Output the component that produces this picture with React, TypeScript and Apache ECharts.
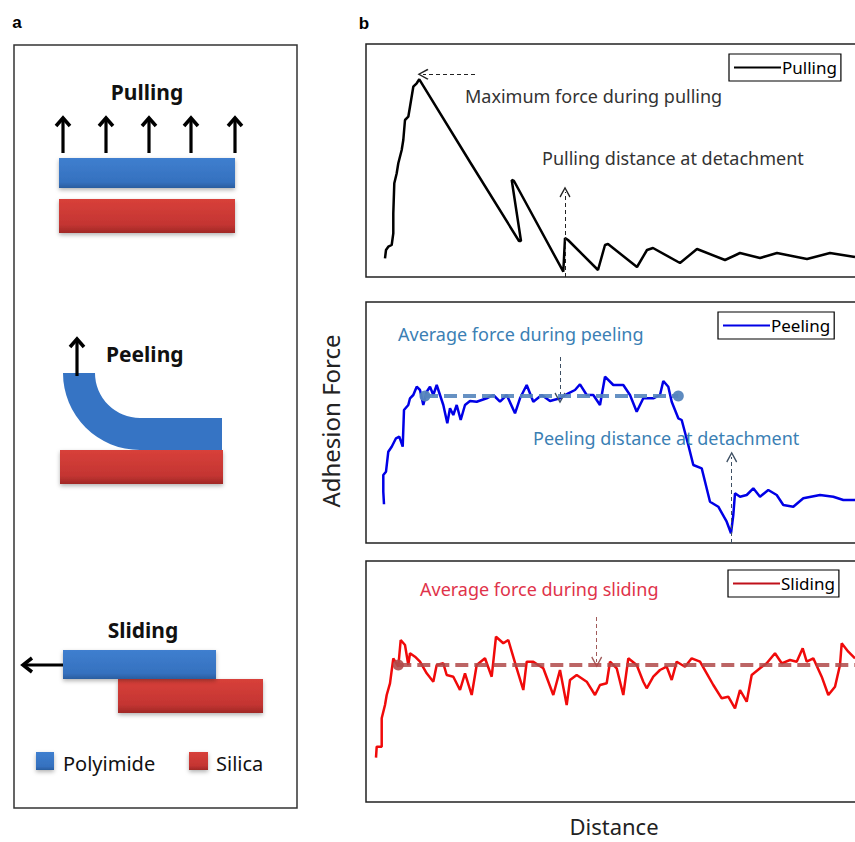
import React, { useEffect, useRef } from "react";
import * as echarts from "echarts";

// Distance (arbitrary units) and adhesion force (arbitrary units)
const pullDistance = [19,20,22.3,25.7,27.3,27.3,28.3,30.7,32.3,35.7,37.3,39,42.3,44,47.3,50.7,53.3,104,153,155,145.7,148,197.3,199,202,232,239,242,271,281,287,314,331,359,374,394,411,441,464,489];
const pullForce = [18.7,27,30.3,32,43.7,63.7,93.7,103.7,113.7,127,137,157,160.3,170.3,190.3,193.7,197.7,115,36,36,97,96,5.3,39,37,7,32,33,10,27,29,14,28,17,24,19,24,18,24,20];

const peelDistance = [18,17.3,17.3,20,22.3,25.7,30,33.3,36.7,38,42.3,44,47.3,50.7,54,57.3,60.7,64,67.3,70.7,74,77.3,81.3,84,87.3,90.7,94.7,99,104,110.7,120.7,127.3,134,140.7,149,154,160.7,167.3,175.7,184,194,202.3,209,214,220.7,227.3,234,239,247.3,257.3,264,270.7,277.3,287.3,294,297.3,302.3,305.7,312.3,315.7,322.3,327.3,335.7,344,352.3,360.7,365,367.3,369,374,380.7,387.3,394,402.3,410.7,417.3,427.3,437.3,454,467.3,477.3,489];
const peelForce = [38.7,51.3,68,71.3,91.3,96.3,104.7,106.3,96.3,133,138,144.7,148,156.3,153,138,151.3,156.3,148,158,148,138,119.7,134.7,128,138,123,138,142,141.3,144.7,148,141.3,148,129.7,144.7,158,141.3,148,142,144.7,149.7,153,158.7,148,148,138,166.3,158,158,148,131.3,144.7,144.7,148,162,156.3,141.3,124.7,123,98,78,74.7,41.3,36.3,21.3,9.7,28,49.7,46.3,48,54.7,46.3,53,48,38,36.3,44.7,48,46.3,43,43];

const slideDistance = [10,10.7,15.7,15.7,19,20.7,24,27.3,32.3,34.7,39,42.3,44,49,54,60.7,67.3,70.7,77.3,80.7,87.3,94,99,105.7,110.7,119,125.7,130,137.3,142.3,150.7,157.3,160.7,167.3,177.3,187.3,194,200.7,204,210.7,220.7,229,234,240.7,244,250.7,257.3,262.3,270.7,277.3,280.7,287.3,294,300.7,305.7,310.7,319,325.7,334,340.7,347.3,355.7,362.3,369,374,380.7,385.7,394,400.7,409,415.7,424,430.7,436.7,440.7,447.3,455.7,462.3,469,474,475.7,482.3,489];
const slideForce = [44.3,55.3,55.3,83.7,97,107,118.7,143.7,135.3,162,157,137,148.7,145.3,140.3,128.7,120.3,137,138.7,127,125.3,112,128.7,107,137,143.7,125.3,165.3,158.7,162,133.7,112,140.3,140.3,133.7,107,132,97,122,127,120.3,107,117,118.7,140.3,133.7,107,143.7,137,120.3,113.7,125.3,132,135.3,122,140.3,135.3,143.7,140.3,128.7,117,103.7,105.3,93.7,112,100.3,127,133.7,138.7,148.7,138.7,142,140.3,153.7,140.3,143.7,125.3,107,115.3,137,158.7,150.3,143.7];

// Average-force lines: [start distance, end distance], level
const peelAvgRange = [59, 312.3];
const peelAvgForce = 147;
const slideAvgRange = [32.3, 504];
const slideAvgForce = 137;

// Annotation arrows: [x1, y1, x2, y2] in data units (arrow head at second point)
const pullMaxArrow = [109, 202.7, 57, 202.7];
const pullDetachArrow = [199, 0, 199, 85];
const peelAvgArrow = [194, 186, 194, 145];
const peelDetachArrow = [365.7, 0, 365.7, 86];
const slideAvgArrow = [230.7, 185, 230.7, 140];

const seriesNames = ["Pulling", "Peeling", "Sliding"];
const annotations = [
  "Maximum force during pulling",
  "Pulling distance at detachment",
  "Average force during peeling",
  "Peeling distance at detachment",
  "Average force during sliding",
];
const schematicTitles = ["Pulling", "Peeling", "Sliding"];
const materials = ["Polyimide", "Silica"];

const FONT = "'Noto Sans', 'Open Sans', sans-serif";
const CHEVRON = "path://M0,9 L5,0 L10,9 L9,10 L5,2.4 L1,10 Z";

const zip = (a: number[], b: number[]) => a.map((v, i) => [v, b[i]]);

const arrowLines = (arrows: number[][], color: string) => ({
  silent: true,
  symbol: ["none", CHEVRON],
  symbolSize: 11,
  label: { show: false },
  emphasis: { disabled: true },
  lineStyle: { type: [4, 3], width: 1, color },
  data: arrows.map((a) => [{ coord: [a[0], a[1]] }, { coord: [a[2], a[3]] }]),
});

const txt = (text: string, x: number, y: number, font: string, fill: string, align = "left", extra: any = {}) => ({
  type: "text",
  x,
  y,
  silent: true,
  z: 100,
  ...extra,
  style: {
    text,
    font,
    fill,
    align,
    verticalAlign: "middle",
    textAlign: align,
    textVerticalAlign: "middle",
  },
});

const blueGrad = () =>
  new echarts.graphic.LinearGradient(0, 0, 0, 1, [
    { offset: 0, color: "#3f7fcf" },
    { offset: 0.8, color: "#3571bf" },
    { offset: 1, color: "#2a5d9f" },
  ]);
const redGrad = () =>
  new echarts.graphic.LinearGradient(0, 0, 0, 1, [
    { offset: 0, color: "#d8403a" },
    { offset: 0.75, color: "#c43532" },
    { offset: 1, color: "#a02826" },
  ]);
const shadow = { shadowBlur: 4, shadowColor: "rgba(0,0,0,0.3)", shadowOffsetY: 2 };

const arrowUp = (x: number, y1: number, y2: number) => [
  { type: "line", shape: { x1: x, y1, x2: x, y2: y2 + 2 }, style: { stroke: "#000", lineWidth: 3.2 } },
  {
    type: "polyline",
    shape: { points: [[x - 7, y2 + 9], [x, y2 + 1], [x + 7, y2 + 9]] },
    style: { stroke: "#000", lineWidth: 3.5, fill: null },
  },
];

export default function App() {
  const ref = useRef<HTMLDivElement>(null);
  useEffect(() => {
    if (!ref.current) return;
    const chart = echarts.init(ref.current, undefined, { renderer: "svg" });

    const grids = [
      { left: 366, top: 44, width: 504, height: 233 },
      { left: 366, top: 302, width: 504, height: 241 },
      { left: 366, top: 561, width: 504, height: 241 },
    ].map((g) => ({ ...g, show: true, borderColor: "#222", borderWidth: 1.5, backgroundColor: "transparent", containLabel: false }));

    const yMax = [233, 241, 241];
    const xAxis = [0, 1, 2].map((i) => ({ gridIndex: i, type: "value", min: 0, max: 504, show: false }));
    const yAxis = [0, 1, 2].map((i) => ({ gridIndex: i, type: "value", min: 0, max: yMax[i], show: false }));

    const legendBase = (i: number, left: number, top: number, color: string) => ({
      data: [{ name: seriesNames[i], itemStyle: { color } }],
      left,
      top,
      icon: "rect",
      itemWidth: 47,
      itemHeight: 2,
      itemGap: 0,
      padding: [5, 4, 5, 5],
      borderColor: "#000",
      borderWidth: 1.2,
      backgroundColor: "#fff",
      selectedMode: false,
      textStyle: { color: "#000", fontSize: 17, fontFamily: FONT, padding: [0, 0, 0, -4] },
    });

    const graphic: any[] = [
      // panel labels
      txt("a", 17, 22, "bold 17px 'Liberation Sans', Arial, sans-serif", "#000", "center"),
      txt("b", 364, 23, "bold 17px 'Liberation Sans', Arial, sans-serif", "#000", "center"),
      // panel a frame
      { type: "rect", shape: { x: 14, y: 45, width: 283, height: 763 }, style: { fill: "none", stroke: "#333", lineWidth: 1.5 } },
      // Pulling schematic
      txt(schematicTitles[0], 147, 92, `bold 21px ${FONT}`, "#111", "center"),
      ...[63, 106, 149, 191, 235].flatMap((x) => arrowUp(x, 153, 117)),
      { type: "rect", shape: { x: 59, y: 158, width: 176, height: 30 }, style: { fill: blueGrad(), ...shadow } },
      { type: "rect", shape: { x: 59, y: 199, width: 176, height: 34 }, style: { fill: redGrad(), ...shadow } },
      // Peeling schematic
      txt(schematicTitles[1], 106, 354, `bold 21px ${FONT}`, "#111", "left"),
      { type: "rect", shape: { x: 60, y: 450, width: 163, height: 34 }, style: { fill: redGrad(), ...shadow } },
      { type: "sector", shape: { cx: 140, cy: 373, r0: 45, r: 77, startAngle: Math.PI / 2, endAngle: Math.PI }, style: { fill: "#3674c4" } },
      { type: "rect", shape: { x: 139, y: 418, width: 83, height: 32 }, style: { fill: "#3674c4" } },
      ...arrowUp(77, 376, 338),
      // Sliding schematic
      txt(schematicTitles[2], 143, 630, `bold 21px ${FONT}`, "#111", "center"),
      { type: "rect", shape: { x: 118, y: 679, width: 145, height: 34 }, style: { fill: redGrad(), ...shadow } },
      { type: "rect", shape: { x: 63, y: 650, width: 153, height: 29 }, style: { fill: blueGrad(), ...shadow } },
      { type: "line", shape: { x1: 63, y1: 665, x2: 24, y2: 665 }, style: { stroke: "#000", lineWidth: 3.2 } },
      { type: "polyline", shape: { points: [[32, 658], [23, 665], [32, 672]] }, style: { stroke: "#000", lineWidth: 3.5, fill: null } },
      // materials legend
      { type: "rect", shape: { x: 36, y: 752, width: 18, height: 18 }, style: { fill: blueGrad(), ...shadow } },
      txt(materials[0], 63, 763, `20px ${FONT}`, "#111", "left"),
      { type: "rect", shape: { x: 189, y: 752, width: 19, height: 18 }, style: { fill: redGrad(), ...shadow } },
      txt(materials[1], 216, 763, `20px ${FONT}`, "#111", "left"),
      // axis titles
      txt("Adhesion Force", 330, 421, `24px ${FONT}`, "#222", "center", { rotation: Math.PI / 2 }),
      txt("Distance", 614, 826, `22px ${FONT}`, "#222", "center"),
      // annotations
      txt(annotations[0], 465, 96, `18px ${FONT}`, "#333", "left"),
      txt(annotations[1], 542, 158, `18px ${FONT}`, "#333", "left"),
      txt(annotations[2], 398, 334, `18px ${FONT}`, "#3b7fb4", "left"),
      txt(annotations[3], 533, 438, `18px ${FONT}`, "#3b7fb4", "left"),
      txt(annotations[4], 420, 589, `18px ${FONT}`, "#e0334a", "left"),
    ];

    chart.setOption({
      animation: false,
      grid: grids,
      xAxis,
      yAxis,
      legend: [
        legendBase(0, 729, 54, "#000"),
        legendBase(1, 718, 312, "#0000e6"),
        legendBase(2, 728, 570, "#c0101a"),
      ],
      graphic,
      series: [
        {
          name: seriesNames[0],
          type: "line",
          xAxisIndex: 0,
          yAxisIndex: 0,
          data: zip(pullDistance, pullForce),
          showSymbol: false,
          clip: false,
          lineStyle: { color: "#000", width: 2.5 },
          itemStyle: { color: "#000" },
          markLine: arrowLines([pullMaxArrow, pullDetachArrow], "#222"),
          z: 3,
        },
        {
          name: seriesNames[1],
          type: "line",
          xAxisIndex: 1,
          yAxisIndex: 1,
          data: zip(peelDistance, peelForce),
          showSymbol: false,
          clip: false,
          lineStyle: { color: "#0000e6", width: 2.5 },
          itemStyle: { color: "#0000e6" },
          markLine: arrowLines([peelAvgArrow, peelDetachArrow], "#3d4f63"),
          z: 3,
        },
        {
          type: "line",
          xAxisIndex: 1,
          yAxisIndex: 1,
          data: [[peelAvgRange[0], peelAvgForce], [peelAvgRange[1], peelAvgForce]],
          symbol: "circle",
          symbolSize: 11,
          showSymbol: true,
          lineStyle: { color: "#5585bd", width: 4, type: [13, 6], opacity: 0.9 },
          itemStyle: { color: "#5585bd", opacity: 0.95 },
          z: 5,
        },
        {
          name: seriesNames[2],
          type: "line",
          xAxisIndex: 2,
          yAxisIndex: 2,
          data: zip(slideDistance, slideForce),
          showSymbol: false,
          clip: false,
          lineStyle: { color: "#f00a0a", width: 2.5 },
          itemStyle: { color: "#f00a0a" },
          markLine: arrowLines([slideAvgArrow], "#a05a5a"),
          z: 3,
        },
        {
          type: "line",
          xAxisIndex: 2,
          yAxisIndex: 2,
          data: [[slideAvgRange[0], slideAvgForce], [slideAvgRange[1], slideAvgForce]],
          symbol: "circle",
          symbolSize: 11,
          showSymbol: true,
          lineStyle: { color: "#b04a4a", width: 4, type: [13, 6], opacity: 0.85 },
          itemStyle: { color: "#b04a4a", opacity: 0.9 },
          z: 5,
        },
      ],
    });
    return () => chart.dispose();
  }, []);
  return <div ref={ref} style={{ position: "fixed", left: 0, top: 0, width: 880, height: 842, background: "#fff" }} />;
}
